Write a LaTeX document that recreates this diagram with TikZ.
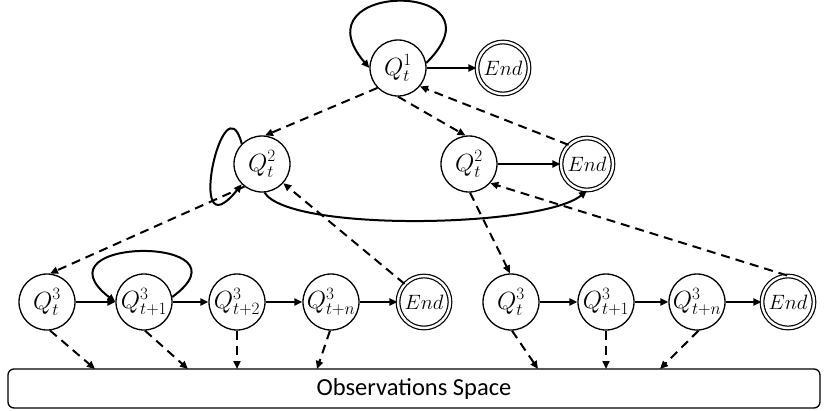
\documentclass[tikz,border=0pt]{standalone}
\usepackage{fontspec}
\newfontfamily\obsfont{Carlito}
\usetikzlibrary{arrows.meta}
\begin{document}
\begin{tikzpicture}[x=1pt,y=-1pt,
  st/.style={circle,draw,line width=1.3pt,minimum size=56pt,inner sep=0pt,font=\fontsize{25}{25}\selectfont},
  endst/.style={circle,draw,double,double distance=2.4pt,line width=1.2pt,minimum size=52pt,inner sep=0pt,font=\fontsize{22.5}{22.5}\selectfont},
  tip/.style={-{Triangle[length=8pt,width=7pt]}},
  sol/.style={line width=2pt,tip},
  dsh/.style={line width=2pt,dash pattern=on 9pt off 6pt,tip},
  obsbox/.style={draw,line width=1.3pt,rounded corners=6pt,minimum width=812pt,minimum height=39pt,inner sep=0pt,font=\obsfont\fontsize{24.5}{24.5}\selectfont}
]
\useasboundingbox (0,0) rectangle (824,410);
% nodes
\node[st] (q1) at (398,68) {$Q_t^1$};
\node[endst] (e1) at (503,68) {$End$};
\node[st] (q2a) at (262,164) {$Q_t^2$};
\node[st] (q2b) at (469,164) {$Q_t^2$};
\node[endst] (e2) at (587,164) {$End$};
\node[st] (r1) at (47,302) {$Q_t^3$};
\node[st] (r2) at (144,302) {$Q_{t+1}^3$};
\node[st] (r3) at (237,302) {$Q_{t+2}^3$};
\node[st] (r4) at (331,302) {$Q_{t+n}^3$};
\node[endst] (re) at (424,302) {$End$};
\node[st] (s1) at (511,302) {$Q_t^3$};
\node[st] (s2) at (606,302) {$Q_{t+1}^3$};
\node[st] (s3) at (697,302) {$Q_{t+n}^3$};
\node[endst] (se) at (788,302) {$End$};
\node[obsbox] (obs) at (414,388.5) {Observations Space};
\coordinate (o1) at (95,369);
\coordinate (o2) at (188,369);
\coordinate (o3) at (237,369);
\coordinate (o4) at (317,369);
\coordinate (o5) at (538,369);
\coordinate (o6) at (606,369);
\coordinate (o7) at (660,369);
% solid
\draw[sol] (q1) -- (e1);
\draw[sol] (q2b) -- (e2);
\draw[sol] (r1) -- (r2);
\draw[sol] (r2) -- (r3);
\draw[sol] (r3) -- (r4);
\draw[sol] (r4) -- (re);
\draw[sol] (s1) -- (s2);
\draw[sol] (s2) -- (s3);
\draw[sol] (s3) -- (se);
% loops
\draw[sol] (q1.10) .. controls +(84,-83) and +(-75,-88) .. (q1.180);
\draw[sol] (q2a.135) .. controls +(-18,-68) and +(-58,72) .. (q2a.225);
\draw[sol] (r2.10) .. controls +(85,-62) and +(-85,-66) .. (r2.180);
\draw[sol] (q2a.275) .. controls +(25,40) and +(-45,37) .. (e2.270);
% dashed
\draw[dsh] (q1.224) -- (q2a.84);
\draw[dsh] (q1.270) -- (q2b.97);
\draw[dsh] (e2.134) -- (q1.320);
\draw[dsh] (q2a.232) -- (r1.84);
\draw[dsh] (re.137) -- (q2a.318);
\draw[dsh] (q2b.272) -- (s1.92);
\draw[dsh] (se.92) -- (q2b.318);
\draw[dsh] (r1.276) -- (o1);
\draw[dsh] (r2.272) -- (o2);
\draw[dsh] (r3.270) -- (o3);
\draw[dsh] (r4.268) -- (o4);
\draw[dsh] (s1.272) -- (o5);
\draw[dsh] (s2.270) -- (o6);
\draw[dsh] (s3.273) -- (o7);
\end{tikzpicture}
\end{document}
